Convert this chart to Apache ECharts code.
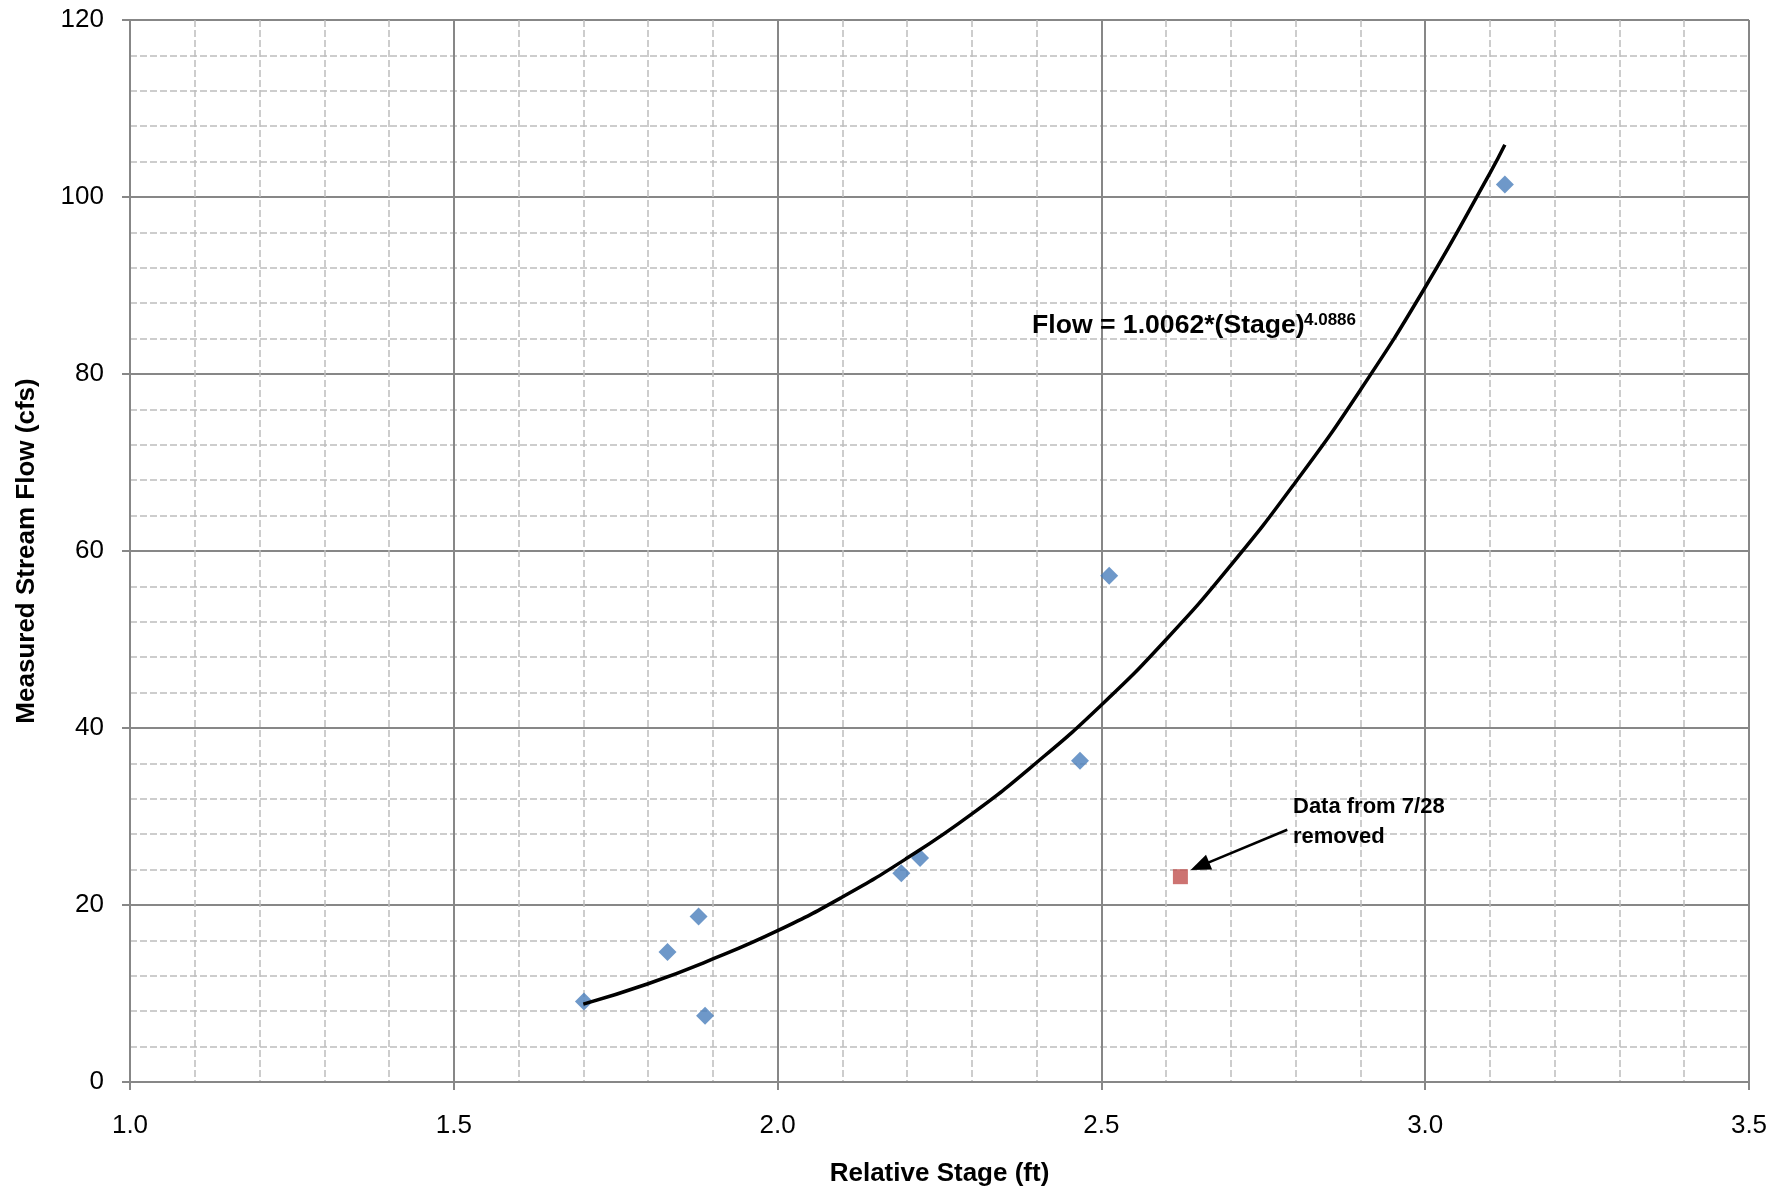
<!DOCTYPE html>
<html>
<head>
<meta charset="utf-8">
<script src="https://cdn.jsdelivr.net/npm/echarts@6/dist/echarts.min.js"></script>
<style>html,body{margin:0;padding:0;background:#fff;}#c{width:1787px;height:1192px;}</style>
</head>
<body>
<div id="c"></div>
<script>
// Measured points (Relative Stage ft, Flow cfs)
var stageX = [1.701, 1.830, 1.878, 1.888, 2.191, 2.220, 2.467, 2.512, 3.123];
var flowY  = [9.1, 14.7, 18.7, 7.5, 23.6, 25.3, 36.3, 57.2, 101.4];
// Removed point (7/28)
var removedX = [2.622];
var removedY = [23.2];
// Trend curve
var trendX = [1.70, 1.80, 1.90, 2.00, 2.10, 2.20, 2.30, 2.40, 2.50, 2.60, 2.70, 2.80, 2.90, 3.00, 3.10, 3.123];
var trendY = [8.8, 11.1, 13.9, 17.1, 20.9, 25.3, 30.3, 36.1, 42.6, 50.0, 58.4, 67.8, 78.2, 89.8, 102.7, 105.9];
// Arrow (from label to removed point)
var arrowFrom = [2.787, 28.5];
var arrowTo = [2.652, 24.4];
// Axis ticks
var xTicks = {min: 1.0, max: 3.5, step: 0.5};
var yTicks = {min: 0, max: 120, step: 20};

function pairs(xs, ys) { return xs.map(function (x, i) { return [x, ys[i]]; }); }

var FONT = 'Liberation Sans, Arial, sans-serif';
var majorColor = '#878787';
var minorColor = '#bdbdbd';

var chart = echarts.init(document.getElementById('c'));
chart.setOption({
  backgroundColor: '#ffffff',
  animation: false,
  grid: {left: 130, right: 38, top: 20, bottom: 109, containLabel: false},
  xAxis: {
    type: 'value', min: xTicks.min, max: xTicks.max, interval: xTicks.step,
    name: 'Relative Stage (ft)', nameLocation: 'middle', nameGap: 79,
    nameTextStyle: {fontFamily: FONT, fontSize: 26, fontWeight: 'bold', color: '#000'},
    axisLine: {show: true, lineStyle: {color: majorColor, width: 2}},
    axisTick: {show: true, length: 8, lineStyle: {color: majorColor, width: 2}},
    axisLabel: {fontFamily: FONT, fontSize: 26, color: '#000', margin: 31,
      formatter: function (v) { return v.toFixed(1); }},
    splitLine: {show: true, lineStyle: {color: majorColor, width: 2}},
    minorTick: {show: false, splitNumber: 5},
    minorSplitLine: {show: true, lineStyle: {color: minorColor, width: 1.5, type: [7, 3]}}
  },
  yAxis: {
    type: 'value', min: yTicks.min, max: yTicks.max, interval: yTicks.step,
    name: 'Measured Stream Flow (cfs)', nameLocation: 'middle', nameGap: 90,
    nameTextStyle: {fontFamily: FONT, fontSize: 26, fontWeight: 'bold', color: '#000'},
    axisLine: {show: true, lineStyle: {color: majorColor, width: 2}},
    axisTick: {show: true, length: 8, lineStyle: {color: majorColor, width: 2}},
    axisLabel: {fontFamily: FONT, fontSize: 26, color: '#000', margin: 26},
    splitLine: {show: true, lineStyle: {color: majorColor, width: 2}},
    minorTick: {show: false, splitNumber: 5},
    minorSplitLine: {show: true, lineStyle: {color: minorColor, width: 1.5, type: [7, 3]}}
  },
  series: [
    {
      type: 'scatter', name: 'Measured', data: pairs(stageX, flowY),
      symbol: 'diamond', symbolSize: 18,
      itemStyle: {color: '#4a7ebb'}, z: 3
    },
    {
      type: 'line', name: 'Trend', data: pairs(trendX, trendY),
      smooth: true, showSymbol: false, symbol: 'none',
      lineStyle: {color: '#000', width: 3.5}, z: 4
    },
    {
      type: 'scatter', name: 'Removed', data: pairs(removedX, removedY),
      symbol: 'rect', symbolSize: 15,
      itemStyle: {color: '#c0504d'}, z: 3,
      markLine: {
        silent: true, symbol: ['none', 'triangle'], symbolSize: [16, 20],
        label: {show: false},
        lineStyle: {color: '#000', width: 2.5, type: 'solid'},
        data: [[{coord: arrowFrom}, {coord: arrowTo}]]
      }
    }
  ],
  graphic: [
    {type: 'text', left: 1032, top: 312, z: 10,
      style: {text: 'Flow = 1.0062*(Stage)', fontFamily: FONT, fontSize: 26.6, fontWeight: 'bold', fill: '#000'}},
    {type: 'text', left: 1304, top: 312, z: 10,
      style: {text: '4.0886', fontFamily: FONT, fontSize: 17, fontWeight: 'bold', fill: '#000'}},
    {type: 'text', left: 1293, top: 792, z: 10,
      style: {text: 'Data from 7/28\nremoved', fontFamily: FONT, fontSize: 22, fontWeight: 'bold', lineHeight: 30, fill: '#000'}}
  ]
});
</script>
</body>
</html>
